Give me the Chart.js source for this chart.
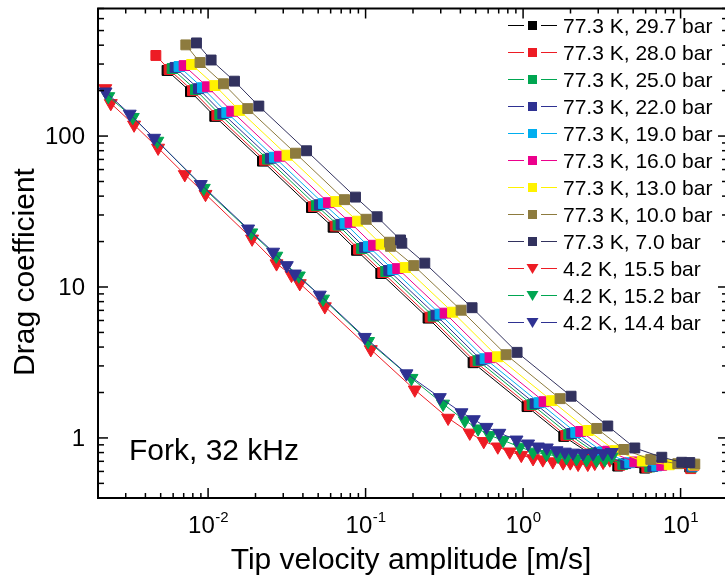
<!DOCTYPE html>
<html>
<head>
<meta charset="utf-8">
<script src="https://cdn.jsdelivr.net/npm/chart.js@4/dist/chart.umd.min.js"></script>
<style>
  html, body { margin: 0; padding: 0; background: #fff; overflow: hidden; }
  #wrap { width: 740px; height: 583px; }
</style>
</head>
<body>
<div id="wrap"><canvas id="c" width="740" height="583"></canvas></div>
<script>
// ---------------- data (tip velocity amplitude [m/s], drag coefficient) ----------------
const v_29_7 = [0.00549, 0.00773, 0.01103, 0.02215, 0.04534, 0.0622, 0.0876, 0.1249, 0.2493, 0.4815, 1.060, 1.813, 2.690, 3.993, 5.926, 11.44];
const cd_29_7 = [272, 197, 135, 68.2, 33.6, 24.9, 17.5, 12.28, 6.22, 3.15, 1.613, 1.024, 0.780, 0.651, 0.631, 0.641];

const v_28_0 = [0.00466, 0.00565, 0.00796, 0.01136, 0.02281, 0.0467, 0.0641, 0.0902, 0.1286, 0.2568, 0.496, 1.092, 1.867, 2.770, 4.111, 6.102, 11.6];
const cd_28_0 = [342, 276, 200, 137, 69.2, 34.1, 25.3, 17.8, 12.46, 6.31, 3.20, 1.637, 1.039, 0.787, 0.659, 0.636, 0.626];

const v_25_0 = [0.00591, 0.00832, 0.01187, 0.02383, 0.0488, 0.0669, 0.0943, 0.1344, 0.2683, 0.518, 1.141, 1.951, 2.894, 4.296, 6.375, 11.78];
const cd_25_0 = [280, 203, 139, 70.3, 34.6, 25.7, 18.0, 12.66, 6.41, 3.25, 1.663, 1.056, 0.795, 0.668, 0.642, 0.641];

const v_22_0 = [0.00617, 0.00869, 0.0124, 0.0249, 0.0510, 0.0699, 0.0985, 0.1404, 0.280, 0.541, 1.191, 2.038, 3.024, 4.487, 6.661, 11.78];
const cd_22_0 = [285, 206, 141, 71.3, 35.1, 26.0, 18.3, 12.85, 6.51, 3.29, 1.687, 1.071, 0.802, 0.676, 0.647, 0.646];

const v_19_0 = [0.00654, 0.00921, 0.01315, 0.0264, 0.0540, 0.0741, 0.1044, 0.1489, 0.2972, 0.574, 1.264, 2.161, 3.206, 4.758, 7.063, 11.95];
const cd_19_0 = [289, 209, 143, 72.4, 35.7, 26.4, 18.6, 13.04, 6.61, 3.35, 1.713, 1.087, 0.809, 0.685, 0.653, 0.651];

const v_16_0 = [0.00704, 0.00991, 0.01414, 0.0284, 0.0581, 0.0797, 0.1123, 0.1601, 0.3196, 0.617, 1.359, 2.324, 3.450, 5.121, 7.597, 12.13];
const cd_16_0 = [293, 212, 146, 73.5, 36.2, 26.8, 18.9, 13.24, 6.71, 3.40, 1.739, 1.104, 0.817, 0.694, 0.658, 0.656];

const v_13_0 = [0.00786, 0.01106, 0.01578, 0.0317, 0.0649, 0.0890, 0.1254, 0.1787, 0.3567, 0.689, 1.517, 2.594, 3.850, 5.713, 8.478, 12.13];
const cd_13_0 = [298, 216, 148, 74.7, 36.8, 27.3, 19.2, 13.45, 6.81, 3.45, 1.766, 1.121, 0.824, 0.703, 0.664, 0.661];

const v_10_0 = [0.00722, 0.00889, 0.01252, 0.01787, 0.0359, 0.0735, 0.1008, 0.1419, 0.1440, 0.2023, 0.4039, 0.780, 1.717, 2.937, 4.360, 6.469, 9.598, 12.31];
const cd_10_0 = [402, 307, 222, 152, 77.0, 37.9, 28.1, 19.8, 18.6, 13.86, 7.02, 3.56, 1.821, 1.156, 0.839, 0.721, 0.675, 0.671];

const v_7_0 = [0.00844, 0.01045, 0.01471, 0.0210, 0.0422, 0.0863, 0.1184, 0.1667, 0.1698, 0.2377, 0.4744, 0.916, 2.017, 3.450, 5.121, 7.597, 10.18, 11.44];
const cd_7_0 = [414, 319, 231, 158, 79.9, 39.4, 29.2, 20.5, 19.5, 14.39, 7.29, 3.69, 1.890, 1.200, 0.858, 0.745, 0.690, 0.687];

const v_15_5 = [0.002225, 0.002411, 0.003389, 0.004815, 0.007112, 0.00963, 0.01903, 0.0272, 0.03385, 0.0382, 0.0551, 0.1079, 0.2053, 0.3341, 0.4587, 0.5627, 0.691, 0.823, 0.974, 1.157, 1.334, 1.544, 1.795, 1.994, 2.235, 2.575, 2.852, 3.221, 3.552];
const cd_15_5 = [206.7, 164.7, 118.7, 83.4, 55.7, 41.2, 20.85, 14.29, 11.99, 10.56, 7.42, 3.857, 2.085, 1.355, 1.080, 0.950, 0.874, 0.810, 0.769, 0.731, 0.718, 0.697, 0.686, 0.686, 0.671, 0.671, 0.681, 0.692, 0.718];

const v_15_2 = [0.002324, 0.003326, 0.00476, 0.00939, 0.0188, 0.0271, 0.03766, 0.0537, 0.1037, 0.1956, 0.3105, 0.4264, 0.518, 0.6145, 0.7464, 0.953, 1.157, 1.408, 1.668, 1.886, 2.183, 2.526, 2.924, 3.302, 3.641];
const cd_15_2 = [183, 133.3, 92.7, 45.2, 22.9, 16.05, 11.87, 8.34, 4.37, 2.488, 1.680, 1.305, 1.151, 1.040, 0.964, 0.872, 0.808, 0.780, 0.757, 0.742, 0.731, 0.720, 0.713, 0.720, 0.749];

const v_14_4 = [0.002232, 0.00318, 0.00454, 0.00899, 0.01795, 0.02587, 0.0316, 0.03552, 0.0512, 0.0988, 0.1818, 0.2959, 0.4064, 0.4864, 0.5857, 0.7062, 0.908, 1.076, 1.240, 1.414, 1.630, 1.840, 2.077, 2.404, 2.782, 3.221, 3.658];
const cd_14_4 = [196.6, 140.1, 97.0, 47.9, 24.3, 17.06, 13.90, 12.23, 8.86, 4.65, 2.668, 1.856, 1.473, 1.325, 1.179, 1.077, 0.972, 0.915, 0.874, 0.861, 0.825, 0.808, 0.796, 0.789, 0.789, 0.789, 0.804];

const SERIES_LABELS = ['77.3 K, 29.7 bar', '77.3 K, 28.0 bar', '77.3 K, 25.0 bar', '77.3 K, 22.0 bar',
  '77.3 K, 19.0 bar', '77.3 K, 16.0 bar', '77.3 K, 13.0 bar', '77.3 K, 10.0 bar', '77.3 K, 7.0 bar',
  '4.2 K, 15.5 bar', '4.2 K, 15.2 bar', '4.2 K, 14.4 bar'];
const SERIES_X = [v_29_7, v_28_0, v_25_0, v_22_0, v_19_0, v_16_0, v_13_0, v_10_0, v_7_0, v_15_5, v_15_2, v_14_4];
const SERIES_Y = [cd_29_7, cd_28_0, cd_25_0, cd_22_0, cd_19_0, cd_16_0, cd_13_0, cd_10_0, cd_7_0, cd_15_5, cd_15_2, cd_14_4];

const X_TICK_VALUES = [0.01, 0.1, 1, 10];
const X_TICK_EXP = ['-2', '-1', '0', '1'];
const Y_TICK_VALUES = [1, 10, 100];
const Y_TICK_LABELS = ['1', '10', '100'];

// ---------------- styles ----------------
const COLORS = ['#000000', '#ed1c24', '#00a651', '#2e3192', '#00aeef', '#ec008c', '#fff200', '#8d7b3e', '#32325e',
  '#ed1c24', '#00a651', '#2e3192'];
const MARKERS = ['rect', 'rect', 'rect', 'rect', 'rect', 'rect', 'rect', 'rect', 'rect', 'triangle', 'triangle', 'triangle'];
const FONT = '"Liberation Sans", Arial, Helvetica, sans-serif';

const datasets = SERIES_LABELS.map((label, i) => ({
  label,
  data: SERIES_X[i].map((v, k) => ({ x: v, y: SERIES_Y[i][k] })),
  showLine: true,
  borderColor: COLORS[i],
  backgroundColor: COLORS[i],
  borderWidth: 1,
  pointStyle: MARKERS[i],
  pointRotation: MARKERS[i] === 'triangle' ? 180 : 0,
  pointRadius: MARKERS[i] === 'triangle' ? 7.5 : 7,
  pointBorderWidth: 1,
  pointBorderColor: COLORS[i],
  pointBackgroundColor: COLORS[i],
  order: -i
}));

function logTicks(min, max) {
  const out = [];
  for (let e = Math.floor(Math.log10(min)) ; e <= Math.ceil(Math.log10(max)); e++) {
    for (let m = 1; m <= 9; m++) {
      const v = m * Math.pow(10, e);
      if (v >= min * 0.999 && v <= max * 1.001) out.push({ v, major: m === 1 });
    }
  }
  return out;
}

const originAxes = {
  id: 'originAxes',
  afterDatasetsDraw(chart) {
    const { ctx, chartArea: a, scales } = chart;
    const xs = scales.x, ys = scales.y;
    ctx.save();
    ctx.strokeStyle = '#000';
    ctx.lineWidth = 1.5;
    const seg = (x1, y1, x2, y2) => { ctx.beginPath(); ctx.moveTo(x1, y1); ctx.lineTo(x2, y2); ctx.stroke(); };
    for (const t of logTicks(xs.min, xs.max)) {
      const px = xs.getPixelForValue(t.v);
      const len = t.major ? 10 : 5;
      seg(px, a.bottom, px, a.bottom - len);
      seg(px, a.top, px, a.top + len);
    }
    for (const t of logTicks(ys.min, ys.max)) {
      const py = ys.getPixelForValue(t.v);
      const len = t.major ? 10 : 6;
      seg(a.left, py, a.left + len, py);
      seg(a.right, py, a.right - len, py);
    }
    ctx.lineWidth = 2;
    ctx.strokeRect(a.left, a.top, a.right - a.left, a.bottom - a.top);

    // y tick labels
    ctx.fillStyle = '#000';
    ctx.font = '24px ' + FONT;
    ctx.textAlign = 'right';
    ctx.textBaseline = 'alphabetic';
    Y_TICK_VALUES.forEach((v, i) => {
      ctx.fillText(Y_TICK_LABELS[i], a.left - 13, ys.getPixelForValue(v) + 8);
    });
    // x tick labels with superscript exponents
    ctx.textAlign = 'left';
    X_TICK_VALUES.forEach((v, i) => {
      const px = xs.getPixelForValue(v);
      ctx.font = '24px ' + FONT;
      const wb = ctx.measureText('10').width;
      ctx.font = '15px ' + FONT;
      const we = ctx.measureText(X_TICK_EXP[i]).width;
      const x0 = px - (wb + we) / 2;
      ctx.font = '24px ' + FONT;
      ctx.fillText('10', x0, a.bottom + 35);
      ctx.font = '15px ' + FONT;
      ctx.fillText(X_TICK_EXP[i], x0 + wb + 0.5, a.bottom + 24);
    });

    // axis titles
    ctx.font = '30px ' + FONT;
    ctx.textAlign = 'center';
    ctx.fillText('Tip velocity amplitude [m/s]', 411, 569);
    ctx.save();
    ctx.translate(34, 272);
    ctx.rotate(-Math.PI / 2);
    ctx.fillText('Drag coefficient', 0, 0);
    ctx.restore();

    // annotation
    ctx.textAlign = 'left';
    ctx.font = '30px ' + FONT;
    ctx.fillText('Fork, 32 kHz', 129, 460);

    // legend
    ctx.font = '21px ' + FONT;
    chart.data.datasets.forEach((ds, i) => {
      const yc = 25.5 + 27 * i;
      ctx.strokeStyle = ds.borderColor;
      ctx.lineWidth = 1;
      seg(508, yc, 524, yc);
      seg(541, yc, 557, yc);
      ctx.fillStyle = ds.backgroundColor;
      if (ds.pointStyle === 'rect') {
        ctx.fillRect(528, yc - 4.5, 9, 9);
      } else {
        ctx.beginPath();
        ctx.moveTo(526.5, yc - 4.5);
        ctx.lineTo(538.5, yc - 4.5);
        ctx.lineTo(532.5, yc + 5.5);
        ctx.closePath();
        ctx.fill();
      }
      ctx.fillStyle = '#000';
      ctx.fillText(ds.label, 563, yc + 7.5);
    });
    ctx.restore();
  }
};

new Chart(document.getElementById('c'), {
  type: 'scatter',
  data: { datasets },
  options: {
    responsive: false,
    animation: false,
    devicePixelRatio: 1,
    layout: { padding: { left: 98, right: 12, top: 4, bottom: 85 } },
    plugins: { legend: { display: false }, tooltip: { enabled: false } },
    scales: {
      x: { type: 'logarithmic', min: 0.002, max: 20, bounds: 'data', display: false },
      y: { type: 'logarithmic', min: 0.4, max: 700, bounds: 'data', display: false }
    }
  },
  plugins: [originAxes]
});
</script>
</body>
</html>
